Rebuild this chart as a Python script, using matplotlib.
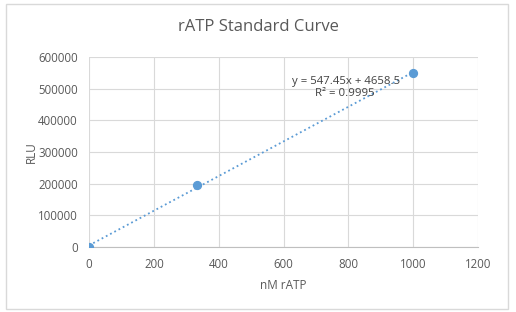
import numpy as np
import matplotlib.pyplot as plt
from matplotlib.patches import Rectangle

# data
conc = [0, 333.33, 1000]
rlu = [0, 195000, 549700]
fit_label = "y = 547.45x + 4658.5"
r2_label = "R² = 0.9995"
x_ticks = [0, 200, 400, 600, 800, 1000, 1200]
y_ticks = [0, 100000, 200000, 300000, 400000, 500000, 600000]

plt.rcParams['font.family'] = ['Open Sans', 'DejaVu Sans']
txt = '#595959'
blue = '#5B9BD5'

fig = plt.figure(figsize=(5.16, 3.12), dpi=100)
fig.patches.append(Rectangle((6/516, 3/312), 502/516, 305/312, transform=fig.transFigure,
                             fill=False, edgecolor='#D9D9D9', linewidth=1))
ax = fig.add_axes([89/516, 1-247/312, (478-89)/516, (247-57)/312])

# linear trendline
slope, icept = np.polyfit(conc, rlu, 1)
xs = np.array([0, 1000])
ax.plot(xs, slope*xs + icept, ':', color=blue, linewidth=1.3)
ax.scatter(conc, rlu, s=32, color=blue, zorder=3)

ax.set_xlim(0, 1200)
ax.set_ylim(0, 600000)
ax.set_xticks(x_ticks)
ax.set_yticks(y_ticks)
ax.tick_params(length=0, labelsize=8.3, labelcolor=txt, pad=8)
ax.grid(True, color='#D9D9D9', linewidth=0.8)
ax.set_axisbelow(True)
for s in ['top', 'right', 'left']:
    ax.spines[s].set_visible(False)
ax.spines['bottom'].set_color('#BFBFBF')

ax.set_xlabel('nM rATP', fontsize=8.5, color=txt, labelpad=6)
ax.set_ylabel('RLU', fontsize=8.5, color=txt)
ax.yaxis.set_label_coords(-51/389, 0.5)
fig.text(0.5, 1-27/312, 'rATP Standard Curve', ha='center', va='center', fontsize=12, color=txt)

ax.text(627, 524000, fit_label, fontsize=8.2, color='#404040', ha='left', va='center')
ax.text(880, 484000, r2_label, fontsize=8.2, color='#404040', ha='right', va='center')

fig.savefig('out.png', dpi=100)
